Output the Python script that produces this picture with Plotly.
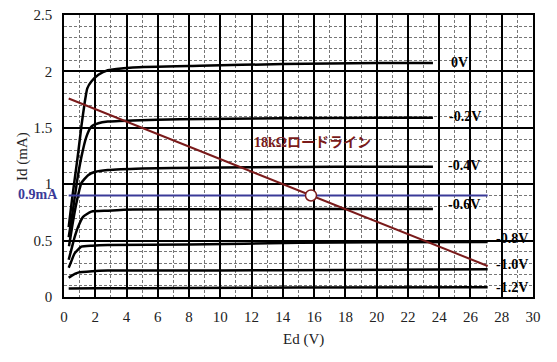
import plotly.graph_objects as go

# Plate characteristics (Ed in V, Id in mA) per grid voltage
bias_labels = ["0V", "-0.2V", "-0.4V", "-0.6V", "-0.8V", "-1.0V", "-1.2V"]

ed_0v = [0.3, 0.5, 0.68, 0.9, 1.11, 1.32, 1.49, 1.75, 2.2, 2.8, 4.4, 8.7, 14, 20, 23.6]
id_0v = [0.62, 0.85, 1.04, 1.27, 1.51, 1.72, 1.85, 1.91, 1.97, 2.01, 2.035, 2.05, 2.065, 2.075, 2.075]

ed_02 = [0.3, 0.55, 0.85, 1.11, 1.43, 1.75, 2.2, 2.8, 4.4, 7.4, 14, 20, 23.6]
id_02 = [0.53, 0.75, 1.04, 1.24, 1.42, 1.51, 1.54, 1.555, 1.565, 1.575, 1.585, 1.59, 1.59]

ed_04 = [0.32, 0.55, 0.79, 1.11, 1.54, 2.0, 2.8, 5.0, 8.7, 15, 20, 23.6]
id_04 = [0.45, 0.65, 0.83, 1.01, 1.08, 1.11, 1.126, 1.14, 1.146, 1.152, 1.155, 1.155]

ed_06 = [0.3, 0.47, 0.68, 0.9, 1.22, 1.75, 2.8, 4.4, 10, 16, 23.6]
id_06 = [0.33, 0.42, 0.53, 0.62, 0.71, 0.757, 0.765, 0.775, 0.778, 0.78, 0.78]

ed_08 = [0.3, 0.45, 0.68, 1.11, 1.8, 2.8, 8, 15.1, 20, 27.1]
id_08 = [0.26, 0.31, 0.387, 0.446, 0.455, 0.461, 0.465, 0.481, 0.485, 0.488]

ed_10 = [0.3, 0.5, 0.9, 1.8, 2.8, 10, 17.7, 27.1]
id_10 = [0.17, 0.19, 0.216, 0.228, 0.234, 0.236, 0.239, 0.245]

ed_12 = [0.3, 2.0, 8, 15, 27.1]
id_12 = [0.075, 0.077, 0.08, 0.084, 0.086]

curves_x = [ed_0v, ed_02, ed_04, ed_06, ed_08, ed_10, ed_12]
curves_y = [id_0v, id_02, id_04, id_06, id_08, id_10, id_12]

# label positions (Ed, Id) for bias labels
label_x = [25.3, 25.65, 25.6, 25.6, 28.66, 28.66, 28.66]
label_y = [2.08, 1.60, 1.164, 0.816, 0.52, 0.284, 0.086]

# 18k ohm load line
load_x = [0.3, 27.1]
load_y = [1.76, 0.275]

# 0.9 mA bias line
bias_x = [0.3, 27.1]
bias_y = [0.9, 0.9]

# operating point
op_x = [15.8]
op_y = [0.9]

x_ticks = list(range(0, 31, 2))
y_ticks = [0, 0.5, 1, 1.5, 2, 2.5]
y_tick_text = ["0", "0.5", "1", "1.5", "2", "2.5"]

SERIF = "Liberation Serif, Times New Roman, serif"
JP = "Liberation Serif, Noto Sans CJK JP, serif"

fig = go.Figure()

for cx, cy in zip(curves_x, curves_y):
    fig.add_trace(go.Scatter(x=cx, y=cy, mode="lines",
                             line=dict(color="black", width=2.5, shape="spline", smoothing=0.5),
                             hoverinfo="skip", showlegend=False))

fig.add_trace(go.Scatter(x=bias_x, y=bias_y, mode="lines",
                         line=dict(color="#3a3a98", width=2), showlegend=False))
fig.add_trace(go.Scatter(x=load_x, y=load_y, mode="lines",
                         line=dict(color="#7a1a1a", width=2), showlegend=False))
fig.add_trace(go.Scatter(x=op_x, y=op_y, mode="markers",
                         marker=dict(size=11, color="white", line=dict(color="#7a1a1a", width=1.5)),
                         showlegend=False))

for t, lx, ly in zip(bias_labels, label_x, label_y):
    fig.add_annotation(x=lx, y=ly, text=t, showarrow=False, xref="x", yref="y",
                       xanchor="center", yanchor="middle",
                       font=dict(family=SERIF, size=14, color="black", weight="bold"))

fig.add_annotation(x=15.9, y=1.37, text="18kΩロードライン", showarrow=False,
                   xanchor="center", yanchor="middle",
                   font=dict(family=JP, size=14, color="#7a1a1a", weight="bold"))
fig.add_annotation(x=-0.0565, y=0.91, xref="paper", yref="y", text="0.9mA", showarrow=False,
                   xanchor="center", yanchor="middle",
                   font=dict(family=SERIF, size=14, color="#3a3a98", weight="bold"))

fig.add_annotation(x=0.51, y=-0.152, xref="paper", yref="paper", text="Ed (V)", showarrow=False,
                   xanchor="center", yanchor="middle",
                   font=dict(family=SERIF, size=15, color="#222"))
fig.add_annotation(x=-0.0896, y=0.50, xref="paper", yref="paper", text="Id (mA)", showarrow=False,
                   xanchor="center", yanchor="middle",
                   textangle=-90, font=dict(family=SERIF, size=15, color="#222"))

fig.update_xaxes(range=[0, 30], tickvals=x_ticks, ticktext=[str(v) for v in x_ticks],
                 showgrid=True, gridcolor="black", gridwidth=1.5,
                 minor=dict(dtick=1, showgrid=True, gridcolor="#777", griddash="3px,2px", gridwidth=1),
                 showline=True, linecolor="black", linewidth=1.5, mirror=True,
                 zeroline=False, ticks="", ticklen=0, ticklabelstandoff=5, automargin=False,
                 ticklabeloverflow="allow",
                 tickfont=dict(family=SERIF, size=15, color="#222"))
fig.update_yaxes(range=[0, 2.5], tickvals=y_ticks, ticktext=y_tick_text,
                 showgrid=True, gridcolor="black", gridwidth=1.5,
                 minor=dict(dtick=0.1, showgrid=True, gridcolor="#777", griddash="3px,2px", gridwidth=1),
                 showline=True, linecolor="black", linewidth=1.5, mirror=True,
                 zeroline=False, ticks="", ticklen=0, ticklabelstandoff=7, automargin=False,
                 ticklabeloverflow="allow",
                 tickfont=dict(family=SERIF, size=15, color="#222"))

# page body has an 8px default margin, so the figure is sized/positioned to compensate
fig.update_layout(width=549, height=354, margin=dict(l=56, r=24, t=7, b=65),
                  paper_bgcolor="white", plot_bgcolor="white", showlegend=False)

fig.write_html("out.html")
